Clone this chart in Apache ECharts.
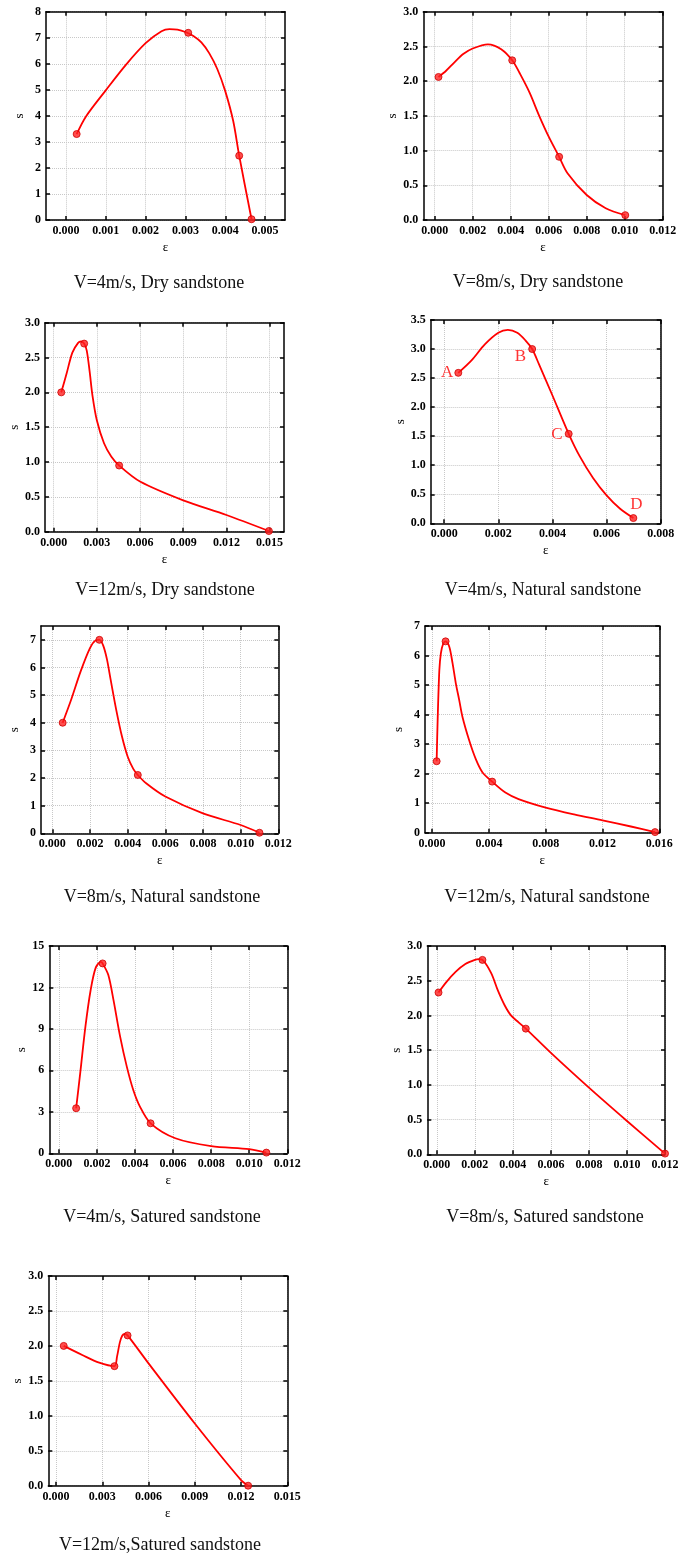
<!DOCTYPE html>
<html><head><meta charset="utf-8">
<script src="https://cdn.jsdelivr.net/npm/echarts@6/dist/echarts.min.js"></script>
<style>html,body{margin:0;padding:0;background:#fff}#c{width:685px;height:1558px}</style>
</head><body><div id="c"></div>
<script>
// ---------- DATA ----------
const titles = [
  'V=4m/s, Dry sandstone', 'V=8m/s, Dry sandstone',
  'V=12m/s, Dry sandstone', 'V=4m/s, Natural sandstone',
  'V=8m/s, Natural sandstone', 'V=12m/s, Natural sandstone',
  'V=4m/s, Satured sandstone', 'V=8m/s, Satured sandstone',
  'V=12m/s,Satured sandstone'
];
const xAxisName = 'ε';
const yAxisName = 's';

const markers1 = [[0.00027,3.3],[0.00307,7.19],[0.00435,2.47],[0.00466,0.03]];
const curve1 = [[0.00027,3.3],[0.0005,3.97],[0.001,4.98],[0.0015,5.95],[0.002,6.79],[0.0024,7.25],[0.0026,7.33],[0.0028,7.31],[0.003,7.22],[0.0032,7.07],[0.0034,6.82],[0.0036,6.4],[0.0038,5.8],[0.004,4.95],[0.0042,3.8],[0.00435,2.47],[0.00466,0.03]];

const markers2 = [[0.0002,2.06],[0.00408,2.3],[0.00655,0.91],[0.01003,0.07]];
const curve2 = [[0.0002,2.06],[0.0006,2.15],[0.001,2.26],[0.0015,2.39],[0.002,2.47],[0.0028,2.53],[0.0035,2.46],[0.00408,2.3],[0.0045,2.1],[0.005,1.83],[0.0055,1.5],[0.006,1.2],[0.00655,0.91],[0.007,0.67],[0.008,0.36],[0.009,0.17],[0.01003,0.07]];

const markers3 = [[0.00053,2.0],[0.00212,2.7],[0.00455,0.95],[0.01495,0.01]];
const curve3 = [[0.00053,2.0],[0.0009,2.27],[0.0013,2.57],[0.0017,2.71],[0.0019,2.73],[0.00212,2.7],[0.0023,2.6],[0.0025,2.3],[0.0027,1.95],[0.003,1.6],[0.0035,1.27],[0.004,1.08],[0.00455,0.95],[0.006,0.72],[0.009,0.45],[0.012,0.24],[0.01495,0.01]];

const markers4 = [[0.00052,2.59],[0.00325,3.0],[0.0046,1.54],[0.00699,0.09]];
const curve4 = [[0.00052,2.59],[0.001,2.8],[0.0015,3.08],[0.002,3.28],[0.00235,3.33],[0.0027,3.28],[0.003,3.15],[0.00325,3.0],[0.0035,2.74],[0.004,2.2],[0.0046,1.54],[0.005,1.16],[0.0055,0.78],[0.006,0.48],[0.0065,0.25],[0.00699,0.09]];
const pointLabels4 = ['A','B','C','D'];

const markers5 = [[0.00055,4.0],[0.0025,7.0],[0.00454,2.11],[0.011,0.02]];
const curve5 = [[0.00055,4.0],[0.001,4.83],[0.0015,5.85],[0.002,6.7],[0.0023,6.98],[0.0025,7.0],[0.0027,6.8],[0.0029,6.3],[0.0031,5.55],[0.0034,4.45],[0.0037,3.5],[0.004,2.78],[0.0043,2.33],[0.00454,2.11],[0.005,1.8],[0.006,1.33],[0.008,0.72],[0.01,0.3],[0.011,0.02]];

const markers6 = [[0.00032,2.42],[0.00095,6.48],[0.00423,1.73],[0.0157,0.02]];
const curve6 = [[0.00032,2.42],[0.00039,3.8],[0.00051,5.5],[0.00062,6.08],[0.00078,6.4],[0.00095,6.48],[0.00121,6.3],[0.00144,5.74],[0.00167,5.06],[0.00191,4.49],[0.00214,3.92],[0.00261,3.13],[0.00307,2.5],[0.00354,2.05],[0.00423,1.73],[0.00516,1.36],[0.00609,1.14],[0.008,0.85],[0.010,0.62],[0.012,0.42],[0.014,0.21],[0.0157,0.02]];

const markers7 = [[0.00091,3.26],[0.0023,13.74],[0.00482,2.17],[0.0109,0.05]];
const curve7 = [[0.00091,3.26],[0.00114,6.0],[0.0014,9.2],[0.00167,11.8],[0.00193,13.4],[0.0022,13.85],[0.0023,13.74],[0.0026,12.9],[0.00287,11.1],[0.00322,8.44],[0.00357,6.27],[0.00391,4.58],[0.00426,3.38],[0.00482,2.17],[0.00612,1.09],[0.008,0.52],[0.01,0.3],[0.0109,0.05]];

const markers8 = [[0.00009,2.33],[0.0024,2.8],[0.00468,1.81],[0.012,0.01]];
const curve8 = [[0.00009,2.33],[0.0005,2.48],[0.001,2.63],[0.0015,2.74],[0.002,2.8],[0.0022,2.81],[0.0024,2.8],[0.00286,2.61],[0.00321,2.36],[0.00356,2.15],[0.0039,2.0],[0.0043,1.9],[0.00468,1.81],[0.006,1.46],[0.008,0.96],[0.01,0.48],[0.012,0.01]];

const markers9 = [[0.0005,2.0],[0.00379,1.71],[0.00464,2.15],[0.01246,0.0]];
const curve9 = [[0.0005,2.0],[0.0017,1.87],[0.0028,1.76],[0.00379,1.71],[0.00396,1.85],[0.00414,2.05],[0.0043,2.15],[0.00447,2.17],[0.00464,2.15],[0.006,1.75],[0.009,0.89],[0.012,0.08],[0.01246,0.0]];

// axis ranges and tick values
const xMins = [-0.0005,-0.0006,-0.0006,-0.0005,-0.0006,-0.0005,-0.0005,-0.0005,-0.0005];
const xMaxs = [0.0055,0.012,0.016,0.008,0.012,0.016,0.012,0.012,0.015];
const xTicks1 = [0,0.001,0.002,0.003,0.004,0.005];
const xTicks2 = [0,0.002,0.004,0.006,0.008,0.010,0.012];
const xTicks3 = [0,0.003,0.006,0.009,0.012,0.015];
const xTicks4 = [0,0.002,0.004,0.006,0.008];
const xTicks5 = [0,0.002,0.004,0.006,0.008,0.010,0.012];
const xTicks6 = [0,0.004,0.008,0.012,0.016];
const xTicks7 = [0,0.002,0.004,0.006,0.008,0.010,0.012];
const xTicks8 = [0,0.002,0.004,0.006,0.008,0.010,0.012];
const xTicks9 = [0,0.003,0.006,0.009,0.012,0.015];
const yMaxs = [8,3,3,3.5,7.5,7,15,3,3];
const yTicks1 = [0,1,2,3,4,5,6,7,8];
const yTicks2 = [0,0.5,1.0,1.5,2.0,2.5,3.0];
const yTicks3 = [0,0.5,1.0,1.5,2.0,2.5,3.0];
const yTicks4 = [0,0.5,1.0,1.5,2.0,2.5,3.0,3.5];
const yTicks5 = [0,1,2,3,4,5,6,7];
const yTicks6 = [0,1,2,3,4,5,6,7];
const yTicks7 = [0,3,6,9,12,15];
const yTicks8 = [0,0.5,1.0,1.5,2.0,2.5,3.0];
const yTicks9 = [0,0.5,1.0,1.5,2.0,2.5,3.0];
const yDecimals = [0,1,1,1,0,0,0,1,1];

// ---------- LAYOUT ----------
const markers = [markers1,markers2,markers3,markers4,markers5,markers6,markers7,markers8,markers9];
const curves = [curve1,curve2,curve3,curve4,curve5,curve6,curve7,curve8,curve9];
const xTicks = [xTicks1,xTicks2,xTicks3,xTicks4,xTicks5,xTicks6,xTicks7,xTicks8,xTicks9];
const yTicks = [yTicks1,yTicks2,yTicks3,yTicks4,yTicks5,yTicks6,yTicks7,yTicks8,yTicks9];
// left, top, width, height, titleCx, titleCy
const layout = [
  [46, 11.7, 239, 208.3, 159, 283],
  [423.3, 11.7, 239.4, 208.3, 538, 282],
  [45, 322.7, 239, 209, 165, 590],
  [430.7, 320, 230, 203.3, 543, 590],
  [41, 626, 237.3, 207.3, 162, 897],
  [425, 626, 234.3, 206.7, 547, 897],
  [49.3, 946, 238, 207.3, 162, 1217],
  [427.3, 946, 237.7, 208.3, 545, 1217],
  [48.3, 1276, 239, 209.7, 160, 1545]
];

const FONT = '"Liberation Serif", "Times New Roman", serif';
const RED = '#ff0000';
const grids = [], xAxes = [], yAxes = [], series = [], graphics = [];

for (let k = 0; k < 9; k++) {
  const [l, t, w, h, tcx, tcy] = layout[k];
  grids.push({left: l, top: t, width: w, height: h, show: false, containLabel: false});
  const xt = xTicks[k], yt = yTicks[k], dec = yDecimals[k];
  const common = {type: 'value', gridIndex: k, scale: false};
  const lineStyle = {color: '#000', width: 1.5};
  xAxes.push(Object.assign({}, common, {
    position: 'bottom', min: xMins[k], max: xMaxs[k],
    name: xAxisName, nameLocation: 'middle', nameGap: 21,
    nameTextStyle: {fontFamily: FONT, fontSize: 13, color: '#000'},
    axisLine: {show: true, onZero: false, lineStyle},
    axisTick: {show: true, inside: true, length: 4, customValues: xt, lineStyle},
    axisLabel: {show: true, customValues: xt, margin: 5, fontFamily: FONT, fontWeight: 'bold', fontSize: 12, color: '#000',
      formatter: v => v.toFixed(3), showMinLabel: true, showMaxLabel: true, hideOverlap: false},
    splitLine: {show: true, lineStyle: {type: 'dotted', color: '#c8c8c8', width: 1}}
  }));
  xAxes.push(Object.assign({}, common, {
    position: 'top', min: xMins[k], max: xMaxs[k],
    axisLine: {show: true, onZero: false, lineStyle},
    axisTick: {show: true, inside: true, length: 4, customValues: xt, lineStyle},
    axisLabel: {show: false, customValues: xt},
    splitLine: {show: false}
  }));
  yAxes.push(Object.assign({}, common, {
    position: 'left', min: 0, max: yMaxs[k],
    name: yAxisName, nameLocation: 'middle', nameGap: 20,
    nameTextStyle: {fontFamily: FONT, fontSize: 13, color: '#000'},
    axisLine: {show: true, onZero: false, lineStyle},
    axisTick: {show: true, inside: true, length: 4, customValues: yt, lineStyle},
    axisLabel: {show: true, customValues: yt, margin: 5, fontFamily: FONT, fontWeight: 'bold', fontSize: 12, color: '#000',
      formatter: v => v.toFixed(dec)},
    splitLine: {show: true, lineStyle: {type: 'dotted', color: '#c8c8c8', width: 1}}
  }));
  yAxes.push(Object.assign({}, common, {
    position: 'right', min: 0, max: yMaxs[k],
    axisLine: {show: true, onZero: false, lineStyle},
    axisTick: {show: true, inside: true, length: 4, customValues: yt, lineStyle},
    axisLabel: {show: false, customValues: yt},
    splitLine: {show: false}
  }));

  series.push({
    type: 'line', xAxisIndex: 2 * k, yAxisIndex: 2 * k,
    data: curves[k], smooth: 0.3, showSymbol: false, symbol: 'none',
    lineStyle: {color: RED, width: 1.8}, silent: true, animation: false, clip: true
  });
  const mData = markers[k].map((p, i) => {
    const item = {value: p};
    if (k === 3) {
      const pos = [
        {position: 'left', distance: 1, offset: [0, 0]},
        {position: 'left', distance: 2, offset: [0, 7]},
        {position: 'left', distance: 2, offset: [0, 1]},
        {position: 'top', distance: 1, offset: [3, 0]}
      ][i];
      item.label = Object.assign({show: true, formatter: pointLabels4[i], color: RED,
        fontFamily: FONT, fontSize: 17}, pos);
    }
    return item;
  });
  series.push({
    type: 'scatter', xAxisIndex: 2 * k, yAxisIndex: 2 * k,
    data: mData, symbol: 'circle', symbolSize: 7,
    itemStyle: {color: '#ff2020', borderColor: '#d00000', borderWidth: 1},
    silent: true, animation: false, clip: false, z: 3
  });

  graphics.push({
    type: 'text', x: tcx, y: tcy,
    style: {text: titles[k], fontFamily: FONT, fontSize: 18, fill: '#111',
      textAlign: 'center', textVerticalAlign: 'middle'}
  });
}

const chart = echarts.init(document.getElementById('c'), null, {renderer: 'canvas'});
chart.setOption({
  backgroundColor: '#fff',
  animation: false,
  grid: grids, xAxis: xAxes, yAxis: yAxes, series: series, graphic: graphics
});
</script>
</body></html>
